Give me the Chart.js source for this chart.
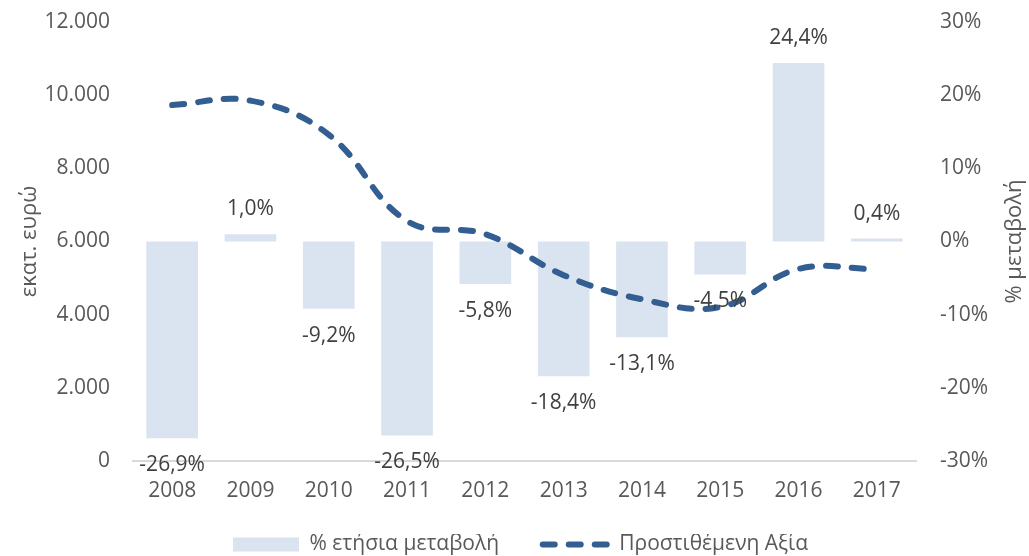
<!DOCTYPE html>
<html>
<head>
<meta charset="utf-8">
<script src="https://cdn.jsdelivr.net/npm/chart.js@4/dist/chart.umd.min.js"></script>
<style>
  html, body { margin: 0; padding: 0; background: #fff; }
  #wrap { width: 1029px; height: 556px; }
</style>
</head>
<body>
<div id="wrap"><canvas id="myChart" width="1029" height="556"></canvas></div>
<script>
const years = ['2008', '2009', '2010', '2011', '2012', '2013', '2014', '2015', '2016', '2017']
const metavoli = [-26.9, 1.0, -9.2, -26.5, -5.8, -18.4, -13.1, -4.5, 24.4, 0.4]
const prostithemeni = [9730, 9850, 8920, 6560, 6200, 5080, 4420, 4210, 5250, 5240]
const leftTicks = [0, 2000, 4000, 6000, 8000, 10000, 12000]
const rightTicks = [-30, -20, -10, 0, 10, 20, 30]

const GRAY = '#595959'
const FONT = "'Open Sans', 'Liberation Sans', sans-serif"
const RIGHT_TITLE = '% μεταβολή'

const fmtThousands = v => String(v).replace(/\B(?=(\d{3})+(?!\d))/g, '.')
const fmtPct = v => v.toFixed(1).replace('.', ',') + '%'

// etiketes sta rabdia
const barLabels = {
    id: 'barLabels',
    afterDatasetsDraw(chart) {
        const meta = chart.getDatasetMeta(0)
        const ctx = chart.ctx
        ctx.save()
        ctx.font = '21px ' + FONT
        ctx.fillStyle = '#404040'
        ctx.textAlign = 'center'
        ctx.textBaseline = 'middle'
        meta.data.forEach((bar, i) => {
            const v = metavoli[i]
            const y = v < 0 ? bar.y + 27 : bar.y - 25
            ctx.fillText(fmtPct(v), bar.x, y)
        })
        ctx.restore()
    }
}

// o titlos deksia grafetai apo katw pros ta panw, opws sto Excel
const rightTitle = {
    id: 'rightTitle',
    afterDraw(chart) {
        const sc = chart.scales.y1
        const ctx = chart.ctx
        ctx.save()
        ctx.font = '22px ' + FONT
        ctx.fillStyle = GRAY
        ctx.textAlign = 'center'
        ctx.textBaseline = 'middle'
        ctx.translate(1015, (sc.top + sc.bottom) / 2)
        ctx.rotate(-Math.PI / 2)
        ctx.fillText(RIGHT_TITLE, 0, 0)
        ctx.restore()
    }
}

// to legend ligo pio katw kai deksia
const moveLegend = {
    id: 'moveLegend',
    afterLayout(chart) {
        const lg = chart.legend
        lg.top += 9; lg.bottom += 9
        lg.left += 6; lg.right += 6
    }
}

const fixVertical = w => axis => {
    axis.width = w
    axis.paddingTop = 22
    axis.paddingBottom = 0
}

var ctx = document.getElementById('myChart')
var myChart = new Chart(ctx, {
    type: 'bar',
    data: {
        labels: years,
        datasets: [{
            type: 'bar',
            label: '% ετήσια μεταβολή',
            data: metavoli,
            yAxisID: 'y1',
            backgroundColor: '#DAE3F0',
            borderWidth: 0,
            barPercentage: 0.66,
            categoryPercentage: 1,
            pointStyle: 'rect',
            order: 2
        }, {
            type: 'line',
            label: 'Προστιθέμενη Αξία',
            data: prostithemeni,
            yAxisID: 'y',
            borderColor: '#335E92',
            backgroundColor: '#335E92',
            borderWidth: 6,
            borderDash: [12, 14],
            borderCapStyle: 'round',
            pointRadius: 0,
            tension: 0.4,
            fill: false,
            pointStyle: 'line',
            order: 1
        }]
    },
    options: {
        responsive: false,
        animation: false,
        layout: { padding: 0 },
        plugins: {
            tooltip: { enabled: false },
            legend: {
                position: 'bottom',
                labels: {
                    usePointStyle: true,
                    pointStyleWidth: 66,
                    boxHeight: 14,
                    padding: 0,
                    color: GRAY,
                    font: { family: FONT, size: 21 },
                    sort: (a, b) => a.datasetIndex - b.datasetIndex,
                    generateLabels: chart => {
                        const items = Chart.defaults.plugins.legend.labels.generateLabels(chart)
                        items.forEach(it => {
                            if (it.datasetIndex === 0) it.text = it.text + '\u00a0'.repeat(8)
                            if (it.datasetIndex === 1) { it.lineDash = [12, 14]; it.lineCap = 'round'; it.lineWidth = 6 }
                        })
                        return items
                    }
                }
            }
        },
        scales: {
            x: {
                grid: { display: false, drawTicks: false },
                border: { display: true, color: '#D9D9D9', width: 2 },
                ticks: { color: GRAY, font: { family: FONT, size: 21 }, padding: 17 },
                afterFit: axis => {
                    axis.height = 64
                    axis.paddingLeft = 0
                    axis.paddingRight = 0
                }
            },
            y: {
                position: 'left',
                min: 0,
                max: 12000,
                afterBuildTicks: axis => { axis.ticks = leftTicks.map(v => ({ value: v })) },
                afterFit: fixVertical(133),
                grid: { display: false, drawTicks: false },
                border: { display: false },
                ticks: { color: GRAY, font: { family: FONT, size: 21 }, padding: 23, callback: v => fmtThousands(v) },
                title: { display: true, text: 'εκατ. ευρώ', color: GRAY, font: { family: FONT, size: 22 }, padding: { top: 17, bottom: 0 } }
            },
            y1: {
                position: 'right',
                min: -30,
                max: 30,
                afterBuildTicks: axis => { axis.ticks = rightTicks.map(v => ({ value: v })) },
                afterFit: fixVertical(113),
                grid: { display: false, drawTicks: false },
                border: { display: false },
                ticks: { color: GRAY, font: { family: FONT, size: 21 }, padding: 24, callback: v => v + '%' }
            }
        }
    },
    plugins: [barLabels, rightTitle, moveLegend]
})
</script>
</body>
</html>
